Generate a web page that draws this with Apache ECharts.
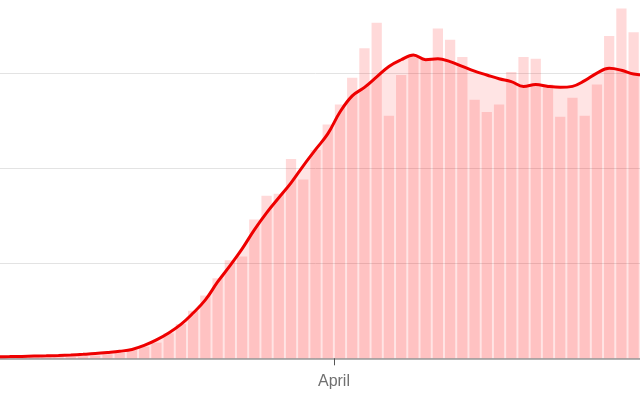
<!DOCTYPE html>
<html>
<head>
<meta charset="utf-8">
<script src="https://cdn.jsdelivr.net/npm/echarts@6/dist/echarts.min.js"></script>
<style>
html,body{margin:0;padding:0;background:#fff;overflow:hidden;width:640px;height:400px;position:relative;}
#chart{position:absolute;left:-21px;top:-22px;width:673px;height:422px;}
</style>
</head>
<body>
<div id="chart"></div>
<script>
// Days (categories)
var days = [
  'Mar 3','Mar 4','Mar 5','Mar 6','Mar 7','Mar 8','Mar 9','Mar 10','Mar 11','Mar 12',
  'Mar 13','Mar 14','Mar 15','Mar 16','Mar 17','Mar 18','Mar 19','Mar 20','Mar 21','Mar 22',
  'Mar 23','Mar 24','Mar 25','Mar 26','Mar 27','Mar 28','Mar 29','Mar 30','Mar 31',
  'Apr 1','Apr 2','Apr 3','Apr 4','Apr 5','Apr 6','Apr 7','Apr 8','Apr 9','Apr 10',
  'Apr 11','Apr 12','Apr 13','Apr 14','Apr 15','Apr 16','Apr 17','Apr 18','Apr 19','Apr 20',
  'Apr 21','Apr 22','Apr 23','Apr 24','Apr 25','Apr 26'
];
// Daily new values (bars)
var dailyValues = [
  20, 30, 50, 60, 80, 100, 120, 160, 210, 280,
  420, 590, 870, 1220, 1650, 2630, 3600, 5000, 6600, 8420,
  10300, 10700, 14600, 17100, 17300, 20950, 18800, 21900, 24600,
  26700, 29500, 32600, 35300, 25500, 29800, 31900, 31600, 34700, 33500,
  31700, 27200, 25900, 26700, 30100, 31700, 31500, 28800, 25400, 27400,
  25500, 28800, 33900, 36800, 34300, 30000
];
// 7-day average (line)
var averageValues = [
  150, 165, 180, 200, 230, 260, 300, 350, 420, 500,
  610, 740, 930, 1350, 1930, 2660, 3560, 4770, 6140, 8030,
  9720, 11510, 13510, 15300, 16880, 18460, 20250, 21950, 23600,
  25900, 27600, 28500, 29600, 30700, 31400, 31900, 31400, 31500, 31200,
  30700, 30200, 29800, 29400, 29100, 28600, 28800, 28600, 28500, 28600,
  29200, 30000, 30500, 30300, 29900, 29800
];
// Axis ticks (first one falls outside the visible area) and their labels
var tickDays = ['Mar 3', 'Apr 1'];
var tickLabels = ['', 'April'];
var yTicks = [0, 10000, 20000, 30000, 40000];

var chart = echarts.init(document.getElementById('chart'), null, {renderer: 'canvas'});
chart.setOption({
  animation: false,
  backgroundColor: '#ffffff',
  grid: {left: 0, right: 0, top: 0, bottom: 41.7, containLabel: false},
  xAxis: {
    type: 'category',
    data: days,
    boundaryGap: true,
    axisLine: {show: true, lineStyle: {color: '#999999', width: 1.5}},
    axisTick: {
      show: true, length: 7, alignWithLabel: false,
      interval: function (idx, val) { return tickDays.indexOf(val) >= 0; },
      lineStyle: {color: '#555555', width: 1}
    },
    axisLabel: {
      show: true,
      interval: function (idx, val) { return tickDays.indexOf(val) >= 0; },
      formatter: function (val) { var k = tickDays.indexOf(val); return k >= 0 ? tickLabels[k] : ''; },
      color: '#707070',
      fontFamily: 'Liberation Sans, Arial, sans-serif',
      fontSize: 16,
      margin: 15,
      padding: [0, 12, 0, 0]
    },
    splitLine: {show: false}
  },
  yAxis: {
    type: 'value',
    min: yTicks[0],
    max: yTicks[yTicks.length - 1],
    interval: yTicks[1] - yTicks[0],
    axisLine: {show: false},
    axisTick: {show: false},
    axisLabel: {show: false},
    splitLine: {show: true, lineStyle: {color: '#e3e3e3', width: 1}}
  },
  series: [
    {
      type: 'bar',
      data: dailyValues,
      barCategoryGap: '16%',
      itemStyle: {color: 'rgba(255,0,0,0.15)'},
      z: 2
    },
    {
      type: 'line',
      data: averageValues,
      smooth: 0.4,
      symbol: 'none',
      lineStyle: {color: '#ee0000', width: 3},
      areaStyle: {color: 'rgba(255,0,0,0.15)', origin: 'start'},
      z: 3
    }
  ]
});
</script>
</body>
</html>
